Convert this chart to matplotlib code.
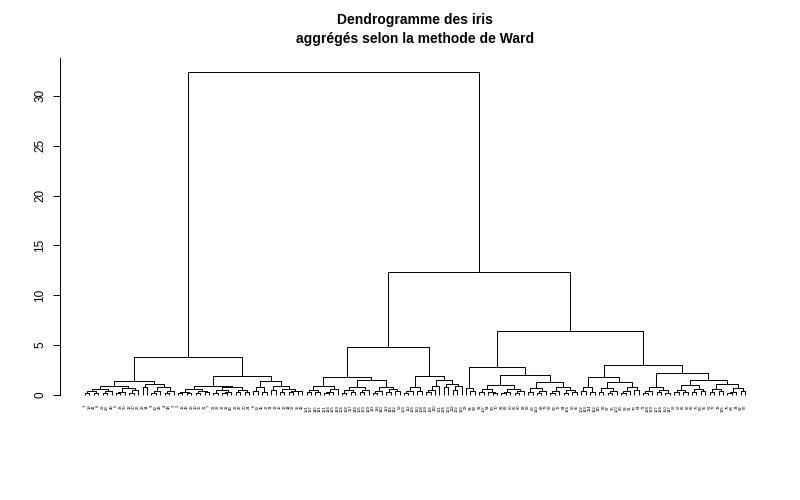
import matplotlib
matplotlib.use("Agg")
import matplotlib.pyplot as plt

plt.rcParams['font.family'] = ['Liberation Sans', 'DejaVu Sans']

# merge heights of the upper part of the tree
h_root = 32.4
h_setosa, h_a1, h_a2 = 3.85, 1.4, 1.95
h_right = 12.3
h_b1, h_b1a, h_b1a_r, h_b1b = 4.85, 1.85, 1.5, 1.95
h_b2, h_b2a, h_b2a_r = 6.45, 2.84, 2.0
h_b2b, h_b2b_l, h_b2b_r, h_b2b_rr = 3.0, 1.85, 2.2, 1.5

# small groups at the bottom: [height, left, right], leaves = row numbers
a1a = [0.95, [0.6, [0.35, [0.15, 1, 18], [0.2, 41, 8]], [0.4, [0.2, 28, 29], 40]],
       [0.7, [0.3, [0.15, 5, 38], 50], [0.45, [0.2, 12, 30], 36]]]
a1b = [1.15, [0.85, 23, 14], [0.8, [0.35, [0.2, 9, 39], 43], [0.4, [0.15, 4, 48], 3]]]
a2a = [0.93, [0.6, [0.3, [0.15, 2, 13], [0.2, 46, 26]], [0.35, [0.2, 10, 35], [0.25, 31, 7]]],
       [0.75, [0.45, [0.2, 21, 32], [0.3, [0.15, 37, 11], 49]], [0.5, [0.25, 22, 47], [0.3, 20, 24]]]]
a2b = [1.4, [0.85, [0.4, 6, 19], [0.3, 45, 17]],
       [0.95, [0.5, 34, 33], [0.6, [0.3, 15, 16], [0.4, [0.3, 44, 27], [0.35, 25, 42]]]]]

b1a_l = [0.93, [0.5, [0.25, 101, 137], [0.3, 145, 141]], [0.6, [0.3, [0.15, 121, 144], 125], 149]]
b1a_rl = [0.85, [0.45, [0.2, 104, 138], [0.25, 117, 148]], [0.5, [0.3, 105, 133], 129]]
b1a_rr = [0.85, [0.4, [0.2, 111, 116], 140], [0.55, [0.25, 113, 146], [0.35, 142, 53]]]
b1b_l = [0.83, [0.4, [0.2, 103, 112], 126], [0.35, 130, 108]]
b1b_r = [1.5, [0.9, [0.45, [0.25, 109, 136], 110], 131],
         [1.15, [0.75, 106, 123], [0.9, [0.5, 118, 132], 119]]]

b2a_l = [0.7, 58, [0.35, 94, 99]]
b2a_rl = [1.0, [0.55, [0.3, 61, 107], [0.25, 54, [0.15, 90, 70]]],
          [0.6, [0.3, [0.15, 81, 82], 60], [0.35, [0.2, 65, 80], 83]]]
b2a_rr = [1.3, [0.7, [0.3, 63, 69], [0.35, [0.2, 120, 88], 73]],
          [0.8, [0.4, [0.2, 68, 93], 72], [0.45, [0.2, 84, 134], [0.25, 56, 85]]]]
b2b_ll = [0.85, [0.4, 102, 143], [0.3, 114, 122]]
b2b_lr = [1.3, [0.65, [0.3, 115, 62], [0.35, [0.2, 97, 95], 100]],
          [0.75, [0.4, [0.2, 89, 96], 91], [0.45, 79, 64]]]
b2b_rl = [0.83, [0.4, [0.2, 71, 128], 139], [0.45, [0.25, 127, 124], [0.2, 150, 147]]]
b2b_rrl = [1.0, [0.5, [0.25, 52, 57], [0.3, 86, 87]], [0.55, [0.3, 66, 76], [0.35, 59, 55]]]
b2b_rrr = [1.1, [0.6, [0.3, 51, 77], [0.35, 78, 135]],
           [0.65, [0.3, [0.15, 75, 98], 74], [0.4, 92, 67]]]

tree = [h_root,
        [h_setosa, [h_a1, a1a, a1b], [h_a2, a2a, a2b]],
        [h_right,
         [h_b1, [h_b1a, b1a_l, [h_b1a_r, b1a_rl, b1a_rr]], [h_b1b, b1b_l, b1b_r]],
         [h_b2, [h_b2a, b2a_l, [h_b2a_r, b2a_rl, b2a_rr]],
          [h_b2b, [h_b2b_l, b2b_ll, b2b_lr],
           [h_b2b_r, b2b_rl, [h_b2b_rr, b2b_rrl, b2b_rrr]]]]]]

fig = plt.figure(figsize=(8, 5), dpi=100)
ax = fig.add_axes([0.075, 0.16, 0.8875, 0.724])

leaves = []


def draw(node):
    if isinstance(node, int):
        leaves.append(node)
        return len(leaves) - 1, 0.0
    h, left, right = node
    xl, hl = draw(left)
    xr, hr = draw(right)
    ax.plot([xl, xl, xr, xr], [hl, h, h, hr], color='black', lw=0.7,
            solid_capstyle='butt')
    return (xl + xr) / 2, h


draw(tree)

for i, lab in enumerate(leaves):
    ax.text(i, -1.0, str(lab), rotation=90, ha='center', va='top',
            fontsize=3, color='black')

ax.set_xlim(-5.64, 154.6)
ax.set_ylim(-2.51, 33.8)
for s in ['top', 'right', 'bottom']:
    ax.spines[s].set_visible(False)
ax.spines['left'].set_bounds(0, 33.8)
ax.spines['left'].set_linewidth(0.7)
ax.set_xticks([])
ax.set_yticks([0, 5, 10, 15, 20, 25, 30])
ax.set_yticklabels(['0', '5', '10', '15', '20', '25', '30'], rotation=90,
                   va='center', fontsize=8.5)
ax.tick_params(axis='y', length=5, width=0.7, pad=5)

fig.text(415 / 800, 1 - 13 / 500,
         "Dendrogramme des iris\naggrégés selon la methode de Ward",
         ha='center', va='top', fontsize=10, fontweight='bold', linespacing=1.45)

fig.savefig('out.png', dpi=100)
